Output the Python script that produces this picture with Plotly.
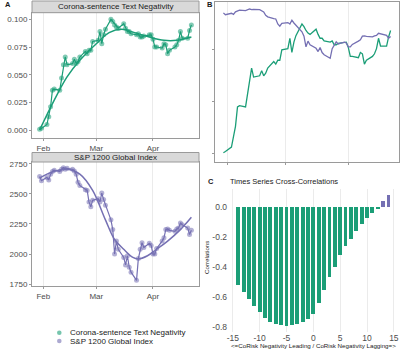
import plotly.graph_objects as go
import pandas as pd

# ---------------- data ----------------
dates = pd.bdate_range("2020-01-30", "2020-04-22")

neg_values = [
    0.0006, 0.0015,
    0.005, 0.012, 0.021, 0.036, 0.037, 0.036, 0.047, 0.059, 0.066, 0.059,
    0.060, 0.064, 0.060, 0.062, 0.066, 0.071, 0.069, 0.072, 0.072, 0.080,
    0.081, 0.089, 0.078, 0.086, 0.091, 0.100, 0.098, 0.095, 0.093, 0.092,
    0.096, 0.092, 0.089, 0.089, 0.087, 0.086, 0.087, 0.084, 0.084, 0.085,
    0.086, 0.086,
    0.082, 0.075, 0.075, 0.074, 0.078, 0.077, 0.069, 0.072, 0.075, 0.077,
    0.081, 0.089, 0.083, 0.083, 0.090, 0.095,
]

sp_values = [
    2644, 2609,
    2636, 2615, 2663, 2685, 2696, 2685, 2704, 2717, 2704, 2712,
    2704, 2690, 2663, 2596, 2568, 2533, 2528, 2433, 2392, 2446,
    2460, 2433, 2506, 2452, 2406, 2284, 2203, 2000, 2108, 2040,
    1972, 1910, 1986, 1891, 1850, 1782, 1964, 2040, 2094, 2054,
    2089, 2072,
    2000, 2000, 2046, 2108, 2135, 2203, 2208, 2197, 2189, 2208,
    2216, 2257, 2243, 2216, 2162, 2197,
]

neg_smooth_dates = ["2020-01-30", "2020-02-07", "2020-02-14", "2020-02-21",
                    "2020-03-01", "2020-03-08", "2020-03-15", "2020-03-22",
                    "2020-03-30", "2020-04-07", "2020-04-14", "2020-04-22"]
neg_smooth_values = [0.000, 0.027, 0.048, 0.063, 0.078, 0.088, 0.091, 0.088,
                     0.084, 0.081, 0.081, 0.084]

sp_smooth_dates = ["2020-01-30", "2020-02-06", "2020-02-14", "2020-02-21",
                   "2020-02-28", "2020-03-06", "2020-03-11", "2020-03-16",
                   "2020-03-21", "2020-03-24", "2020-03-29", "2020-04-03",
                   "2020-04-09", "2020-04-16", "2020-04-22"]
sp_smooth_values = [2631, 2682, 2704, 2663, 2528, 2284, 2121, 2040,
                    1972, 1959, 1986, 2040, 2108, 2203, 2305]

lags = list(range(-14, 15))
ccf_values = [-0.515, -0.565, -0.61, -0.655, -0.70, -0.735, -0.76, -0.775,
              -0.785, -0.787, -0.785, -0.775, -0.76, -0.74, -0.707, -0.64,
              -0.55, -0.465, -0.395, -0.32, -0.26, -0.21, -0.155, -0.11,
              -0.068, -0.035, -0.005, 0.04, 0.08]

month_ticks = ["2020-02-01", "2020-03-01", "2020-04-01"]
month_labels = ["Feb", "Mar", "Apr"]
neg_ticks = [0.0, 0.025, 0.05, 0.075, 0.1]
neg_labels = ["0.000", "0.025", "0.050", "0.075", "0.100"]
sp_ticks = [1750, 2000, 2250, 2500, 2750]
sp_labels = ["1750", "2000", "2250", "2500", "2750"]
corr_ticks = [0.0, -0.2, -0.4, -0.6, -0.8]
corr_labels = ["0.0", "-0.2", "-0.4", "-0.6", "-0.8"]
lag_ticks = [-15, -10, -5, 0, 5, 10, 15]
lag_labels = ["-15", "-10", "-5", "0", "5", "10", "15"]

series_names = ["Corona-sentence Text Negativity", "S&P 1200 Global Index"]

# ---------------- style ----------------
GREEN = "#1b9e77"
PURPLE = "#7570b3"
W, H = 401, 350
FONT = "Liberation Sans, Arial, sans-serif"
TICKCOL = "#4d4d4d"
BORDER = "#9a9a9a"
GRID = "#ebebeb"


def px(x):
    return x / W


def py(y):
    return 1 - y / H


x_range = ["2020-01-25 20:00", "2020-04-26 04:00"]

fig = go.Figure()

# Panel A
fig.add_trace(go.Scatter(x=dates, y=neg_values, mode="lines+markers",
                         line=dict(color=GREEN, width=1.2),
                         marker=dict(size=5, color=GREEN, opacity=0.55),
                         xaxis="x", yaxis="y", showlegend=False))
fig.add_trace(go.Scatter(x=neg_smooth_dates, y=neg_smooth_values, mode="lines",
                         line=dict(color=GREEN, width=1.5, shape="spline"),
                         xaxis="x", yaxis="y", showlegend=False))
# Panel S&P
fig.add_trace(go.Scatter(x=dates, y=sp_values, mode="lines+markers",
                         line=dict(color=PURPLE, width=1.2),
                         marker=dict(size=5, color=PURPLE, opacity=0.55),
                         xaxis="x2", yaxis="y2", showlegend=False))
fig.add_trace(go.Scatter(x=sp_smooth_dates, y=sp_smooth_values, mode="lines",
                         line=dict(color=PURPLE, width=1.5, shape="spline"),
                         xaxis="x2", yaxis="y2", showlegend=False))
# Panel B
fig.add_trace(go.Scatter(x=dates, y=neg_values, mode="lines",
                         line=dict(color=GREEN, width=1.3),
                         xaxis="x3", yaxis="y3", showlegend=False))
fig.add_trace(go.Scatter(x=dates, y=sp_values, mode="lines",
                         line=dict(color=PURPLE, width=1.3),
                         xaxis="x3", yaxis="y4", showlegend=False))
# Panel C
bar_colors = [GREEN if v < 0 else PURPLE for v in ccf_values]
fig.add_trace(go.Bar(x=lags, y=ccf_values, width=0.72,
                     marker=dict(color=bar_colors, line=dict(width=0)),
                     xaxis="x4", yaxis="y5", showlegend=False))

tickfont = dict(family=FONT, size=8, color=TICKCOL)

common_date_axis = dict(range=x_range, type="date", tickvals=month_ticks,
                        ticktext=month_labels, showgrid=True, gridcolor=GRID,
                        gridwidth=0.8, ticks="outside", ticklen=2,
                        tickcolor=BORDER, showline=True, mirror=True,
                        linecolor=BORDER, linewidth=1, zeroline=False,
                        tickfont=tickfont)

fig.update_layout(
    width=W, height=H, margin=dict(l=0, r=0, t=0, b=0),
    template="none", paper_bgcolor="white", plot_bgcolor="white",
    font=dict(family=FONT, size=8, color="#1a1a1a"),
    showlegend=False, bargap=0,
    xaxis=dict(domain=[px(32), px(199)], anchor="y", **common_date_axis),
    yaxis=dict(domain=[py(138), py(12.7)], anchor="x", range=[-0.0072, 0.106],
               tickvals=neg_ticks, ticktext=neg_labels, showgrid=False,
               ticks="outside", ticklen=2, tickcolor=BORDER, showline=True,
               mirror=True, linecolor=BORDER, linewidth=1, zeroline=False,
               tickfont=tickfont),
    xaxis2=dict(domain=[px(32), px(199)], anchor="y2", **common_date_axis),
    yaxis2=dict(domain=[py(286), py(162)], anchor="x2", range=[1735, 2764],
                tickvals=sp_ticks, ticktext=sp_labels, showgrid=False,
                ticks="outside", ticklen=2, tickcolor=BORDER, showline=True,
                mirror=True, linecolor=BORDER, linewidth=1, zeroline=False,
                tickfont=tickfont),
    xaxis3=dict(domain=[px(215), px(399)], anchor="y3",
                **{**common_date_axis, "showticklabels": False}),
    yaxis3=dict(domain=[py(161.7), py(2)], anchor="x3",
                range=[-0.00633, 0.117], tickvals=[0, 0.04, 0.08],
                showticklabels=False, showgrid=False, ticks="outside",
                ticklen=2, tickcolor=BORDER, showline=True, mirror=True,
                linecolor=BORDER, linewidth=1, zeroline=False),
    yaxis4=dict(overlaying="y3", anchor="x3", range=[-179, 2850],
                visible=False, showgrid=False, zeroline=False),
    xaxis4=dict(domain=[px(228), px(398.7)], anchor="y5", range=[-15.9, 15.9],
                tickvals=lag_ticks, ticktext=lag_labels, showgrid=True,
                gridcolor=GRID, gridwidth=0.8, ticks="", showline=False,
                zeroline=False, tickfont=dict(family=FONT, size=8.5, color=TICKCOL)),
    yaxis5=dict(domain=[py(331.8), py(188.8)], anchor="x4",
                range=[-0.830, 0.123], tickvals=corr_ticks,
                ticktext=corr_labels, showgrid=False, ticks="",
                showline=False, zeroline=False,
                tickfont=dict(family=FONT, size=8.5, color=TICKCOL)),
)

shapes = []
annotations = []

# strip headers
for (y0, y1, label) in [(1, 12.7, series_names[0]), (152.5, 162, "S&P 1200 Global Index")]:
    shapes.append(dict(type="rect", xref="paper", yref="paper",
                       x0=px(32), x1=px(199), y0=py(y1), y1=py(y0),
                       fillcolor="#d9d9d9", line=dict(color=BORDER, width=1),
                       layer="above"))
    annotations.append(dict(text=label, xref="paper", yref="paper",
                            x=px(115.5), y=py((y0 + y1) / 2), showarrow=False,
                            xanchor="center", yanchor="middle",
                            font=dict(family=FONT, size=8, color="#1a1a1a")))

# panel letters
for (lab, x, y) in [("A", 3, 5), ("B", 205, 5), ("C", 206, 181)]:
    annotations.append(dict(text="<b>%s</b>" % lab, xref="paper", yref="paper",
                            x=px(x), y=py(y), showarrow=False, xanchor="left",
                            yanchor="middle",
                            font=dict(family=FONT, size=7.5, color="#1a1a1a")))

# panel C title and axis titles
annotations.append(dict(text="Times Series Cross-Correlations", xref="paper",
                        yref="paper", x=px(228), y=py(181), showarrow=False,
                        xanchor="left", yanchor="middle",
                        font=dict(family=FONT, size=7.5, color="#1a1a1a")))
annotations.append(dict(text="Correlations", xref="paper", yref="paper",
                        x=px(206), y=py(258), showarrow=False, textangle=-90,
                        xanchor="center", yanchor="middle",
                        font=dict(family=FONT, size=6.2, color="#1a1a1a")))
annotations.append(dict(text="<=CoRisk Negativity Leading / CoRisk Negativity Lagging=>",
                        xref="paper", yref="paper", x=px(313), y=py(345.5),
                        showarrow=False, xanchor="center", yanchor="middle",
                        font=dict(family=FONT, size=6.2, color="#1a1a1a")))

# legend
for (name, col, y) in [(series_names[0], GREEN, 332.7), (series_names[1], PURPLE, 341)]:
    shapes.append(dict(type="circle", xref="paper", yref="paper",
                       x0=px(57), x1=px(61.6), y0=py(y + 2.3), y1=py(y - 2.3),
                       fillcolor=col, opacity=0.6, line=dict(width=0)))
    annotations.append(dict(text=name, xref="paper", yref="paper", x=px(67.5),
                            y=py(y), showarrow=False, xanchor="left",
                            yanchor="middle",
                            font=dict(family=FONT, size=8, color="#1a1a1a")))

fig.update_layout(shapes=shapes, annotations=annotations)

fig.write_html("out.html")
